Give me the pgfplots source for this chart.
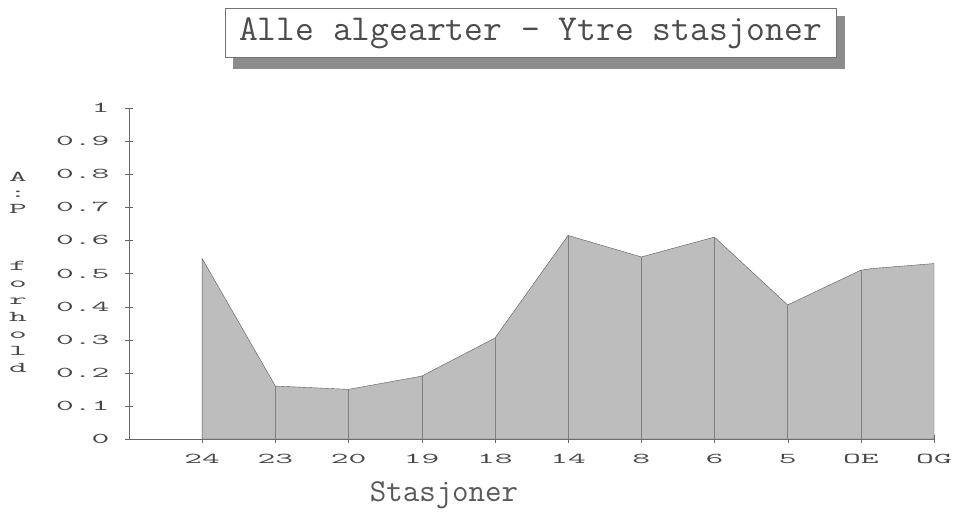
\documentclass[border=0pt]{standalone}
\usepackage{fontspec}
\newfontfamily\tickfont[FakeStretch=2.3]{Latin Modern Mono}
\usepackage{pgfplots}
\pgfplotsset{compat=1.18}
\begin{document}
\begin{tikzpicture}[x=1pt,y=1pt]
\useasboundingbox (0,0) rectangle (953,515);
% title box with shadow
\fill[black!45] (233,446) rectangle (845,499);
\draw[black!55, fill=white] (225,458) rectangle (836,507);
\node[font=\ttfamily\fontsize{36.5}{36.5}\selectfont, text=black!70] at (530.5,482) {Alle algearter - Ytre stasjoner};
% x label
\node[font=\ttfamily\fontsize{32}{32}\selectfont, text=black!65] at (444,20) {Stasjoner};
% stacked y label
\node[font=\tickfont\fontsize{15}{17}\selectfont, text=black!72, inner sep=0pt, align=center, anchor=north]
  at (18,515-172) {A\\[-1pt]:\\[-1pt]P\\[40pt]f\\o\\r\\h\\o\\l\\d};
\begin{axis}[
  at={(129pt,76pt)}, anchor=south west,
  scale only axis, width=805pt, height=331pt,
  xmin=0, xmax=11, ymin=0, ymax=1,
  clip=false,
  axis x line*=bottom, axis y line*=left,
  axis line style={black!60, -},
  xtick={1,2,3,4,5,6,7,8,9,10,11},
  xticklabels={24,23,20,19,18,14,8,6,5,OE,OG},
  ytick={0,0.1,0.2,0.3,0.4,0.5,0.6,0.7,0.8,0.9,1},
  yticklabels={0,0.1,0.2,0.3,0.4,0.5,0.6,0.7,0.8,0.9,1},
  tick label style={font=\tickfont\fontsize{15}{15}\selectfont, text=black!72},
  xticklabel style={yshift=-8pt},
  yticklabel style={xshift=-12pt},
  major tick length=8pt, tick align=center,
  tick style={black!60},
]
\addplot[draw=black!65, fill=black!26] coordinates {
  (1,0) (1,0.545) (2,0.16) (3,0.15) (4,0.19) (5,0.305) (6,0.615) (7,0.55) (8,0.61) (9,0.405) (10,0.51) (10.15,0.515) (11,0.53) (11,0)
} -- cycle;
\addplot[ycomb, black!50, no marks] coordinates {
  (2,0.16) (3,0.15) (4,0.19) (5,0.305) (6,0.615) (7,0.55) (8,0.61) (9,0.405) (10,0.51)
};
\end{axis}
\end{tikzpicture}
\end{document}
